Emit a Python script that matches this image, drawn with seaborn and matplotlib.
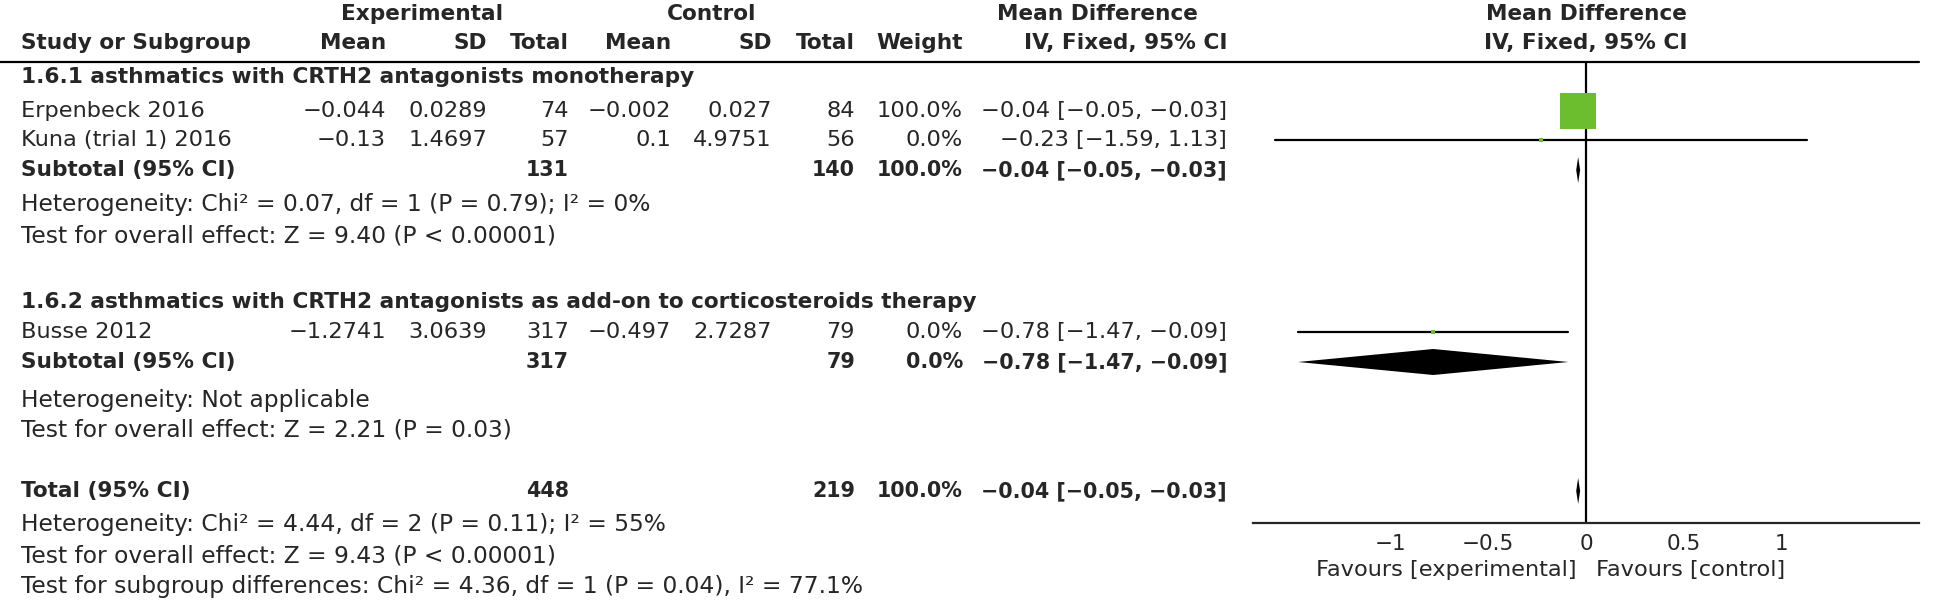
import numpy as np
import pandas as pd
import seaborn as sns
import matplotlib.pyplot as plt
from matplotlib import transforms
from matplotlib.patches import Polygon
from matplotlib.ticker import FuncFormatter

# data
studies = ["Erpenbeck 2016", "Kuna (trial 1) 2016", "Busse 2012"]
exp_mean = [-0.044, -0.13, -1.2741]
exp_sd = [0.0289, 1.4697, 3.0639]
exp_n = [74, 57, 317]
ctl_mean = [-0.002, 0.1, -0.497]
ctl_sd = [0.027, 4.9751, 2.7287]
ctl_n = [84, 56, 79]
weight = [100.0, 0.0, 0.0]
md = [-0.04, -0.23, -0.78]
ci_lo = [-0.05, -1.59, -1.47]
ci_hi = [-0.03, 1.13, -0.09]

groups = ["1.6.1 asthmatics with CRTH2 antagonists monotherapy",
          "1.6.2 asthmatics with CRTH2 antagonists as add-on to corticosteroids therapy"]
sub_exp_n = [131, 317]
sub_ctl_n = [140, 79]
sub_weight = [100.0, 0.0]
sub_md = [-0.04, -0.78]
sub_lo = [-0.05, -1.47]
sub_hi = [-0.03, -0.09]
sub_notes = [["Heterogeneity: Chi² = 0.07, df = 1 (P = 0.79); I² = 0%",
              "Test for overall effect: Z = 9.40 (P < 0.00001)"],
             ["Heterogeneity: Not applicable",
              "Test for overall effect: Z = 2.21 (P = 0.03)"]]

tot_exp_n = 448
tot_ctl_n = 219
tot_weight = 100.0
tot_md, tot_lo, tot_hi = -0.04, -0.05, -0.03
tot_notes = ["Heterogeneity: Chi² = 4.44, df = 2 (P = 0.11); I² = 55%",
             "Test for overall effect: Z = 9.43 (P < 0.00001)",
             "Test for subgroup differences: Chi² = 4.36, df = 1 (P = 0.04), I² = 77.1%"]

ticks = [-1, -0.5, 0, 0.5, 1]
fav_left = "Favours [experimental]"
fav_right = "Favours [control]"

# layout (pixels)
W, H = 1946, 605
row_study = [111, 140, 332]
row_group = [77, 302]
row_sub = [170, 362]
row_notes = [[205, 236], [400, 430]]
row_total = 491
row_tot_notes = [524, 556, 587]
col_x = [386, 487, 569, 671, 772, 855, 963, 1227]
plot_x0, plot_x1 = 1253, 1919
xlim = (-1.7, 1.7)
axis_y, head_y = 523, 62
green = "#6cbe2f"
FS = 16.2      # regular table text
FN = 16.8      # notes lines
FB = 15.6      # bold labels
FBN = 14.9     # bold numbers
FT = 15.5      # tick labels


def fmt(v, spec="g"):
    return format(v, spec).replace("-", "\u2212")


def ci_text(m, lo, hi):
    return f"{fmt(m, '.2f')} [{fmt(lo, '.2f')}, {fmt(hi, '.2f')}]"


sns.set_style("white")
plt.rcParams['font.family'] = ['DejaVu Sans']

fig = plt.figure(figsize=(W / 100, H / 100), dpi=100)
ax_t = fig.add_axes([0, 0, 1, 1])
ax_t.set_xlim(0, W)
ax_t.set_ylim(H, 0)
ax_t.axis("off")

# header
ax_t.text(422, 14, "Experimental", ha="center", va="center", fontsize=FB, fontweight="bold")
ax_t.text(712, 14, "Control", ha="center", va="center", fontsize=FB, fontweight="bold")
ax_t.text(1097, 14, "Mean Difference", ha="center", va="center", fontsize=FB, fontweight="bold")
ax_t.text(21, 43, "Study or Subgroup", ha="left", va="center", fontsize=FB, fontweight="bold")
heads = ["Mean", "SD", "Total", "Mean", "SD", "Total", "Weight", "IV, Fixed, 95% CI"]
for x, h in zip(col_x, heads):
    ax_t.text(x, 43, h, ha="right", va="center", fontsize=FB, fontweight="bold")
ax_t.plot([0, plot_x1], [head_y, head_y], color="black", lw=1.6)

# study rows
for i, name in enumerate(studies):
    y = row_study[i]
    vals = [fmt(exp_mean[i]), fmt(exp_sd[i]), str(exp_n[i]),
            fmt(ctl_mean[i]), fmt(ctl_sd[i]), str(ctl_n[i]),
            f"{weight[i]:.1f}%", ci_text(md[i], ci_lo[i], ci_hi[i])]
    ax_t.text(21, y, name, ha="left", va="center", fontsize=FS)
    for x, v in zip(col_x, vals):
        ax_t.text(x, y, v, ha="right", va="center", fontsize=FS)

# subgroups
for g, title in enumerate(groups):
    ax_t.text(21, row_group[g], title, ha="left", va="center", fontsize=FB, fontweight="bold")
    y = row_sub[g]
    ax_t.text(21, y, "Subtotal (95% CI)", ha="left", va="center", fontsize=FB, fontweight="bold")
    for x, v in zip([col_x[2], col_x[5], col_x[6], col_x[7]],
                    [str(sub_exp_n[g]), str(sub_ctl_n[g]), f"{sub_weight[g]:.1f}%",
                     ci_text(sub_md[g], sub_lo[g], sub_hi[g])]):
        ax_t.text(x, y, v, ha="right", va="center", fontsize=FBN, fontweight="bold")
    for yy, note in zip(row_notes[g], sub_notes[g]):
        ax_t.text(21, yy, note, ha="left", va="center", fontsize=FN)

# total
ax_t.text(21, row_total, "Total (95% CI)", ha="left", va="center", fontsize=FB, fontweight="bold")
for x, v in zip([col_x[2], col_x[5], col_x[6], col_x[7]],
                [str(tot_exp_n), str(tot_ctl_n), f"{tot_weight:.1f}%",
                 ci_text(tot_md, tot_lo, tot_hi)]):
    ax_t.text(x, row_total, v, ha="right", va="center", fontsize=FBN, fontweight="bold")
for yy, note in zip(row_tot_notes, tot_notes):
    ax_t.text(21, yy, note, ha="left", va="center", fontsize=FN)

# forest plot axes
ax = fig.add_axes([plot_x0 / W, (H - axis_y) / H, (plot_x1 - plot_x0) / W, (axis_y - head_y) / H])
ax.set_xlim(*xlim)
ax.set_ylim(axis_y, head_y)
ax.patch.set_alpha(0)
for s in ["top", "left", "right"]:
    ax.spines[s].set_visible(False)
ax.spines["bottom"].set_linewidth(1.6)
ax.set_yticks([])
ax.set_xticks(ticks)
ax.xaxis.set_major_formatter(FuncFormatter(lambda v, p: fmt(v)))
ax.tick_params(axis="x", direction="inout", length=14, width=1.4, labelsize=FT, pad=1)
ax.axvline(0, color="black", lw=1.6)

bt = transforms.blended_transform_factory(ax.transData, ax_t.transData)
ax.text(0, 14, "Mean Difference", transform=bt, ha="center", va="center",
        fontsize=FB, fontweight="bold")
ax.text(0, 43, "IV, Fixed, 95% CI", transform=bt, ha="center", va="center",
        fontsize=FB, fontweight="bold")

# CI lines and squares
for i in range(len(studies)):
    ax.plot([ci_lo[i], ci_hi[i]], [row_study[i], row_study[i]], color="black", lw=1.6)
df = pd.DataFrame({"md": md, "y": row_study, "w": weight})
side = (4 + 32 * df["w"] / 100) * 0.72
sns.scatterplot(data=df, x="md", y="y", marker="s", s=side ** 2, color=green,
                linewidth=0, ax=ax, zorder=3, legend=False)
ax.set_xlabel("")
ax.set_ylabel("")


def diamond(m, lo, hi, y, h=26):
    ax.add_patch(Polygon([[lo, y], [m, y - h / 2], [hi, y], [m, y + h / 2]],
                         closed=True, color="black", lw=0))


for g in range(len(groups)):
    diamond(sub_md[g], sub_lo[g], sub_hi[g], row_sub[g])
diamond(tot_md, tot_lo, tot_hi, row_total)

ax.text(-0.05, 570, fav_left, transform=bt, ha="right", va="center", fontsize=FS)
ax.text(0.05, 570, fav_right, transform=bt, ha="left", va="center", fontsize=FS)

fig.savefig("out.png", dpi=100)
